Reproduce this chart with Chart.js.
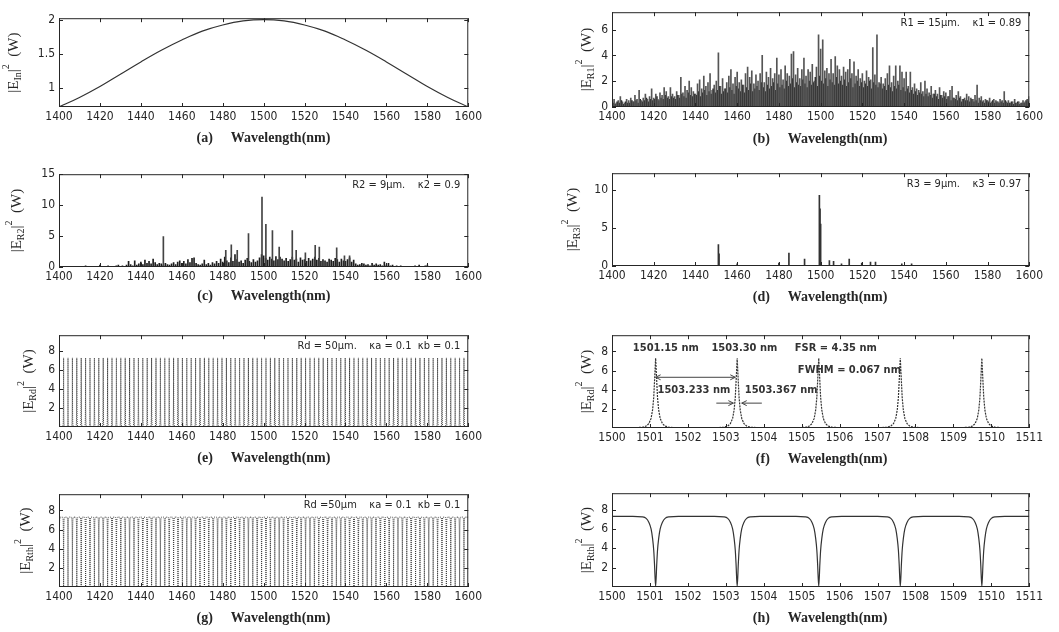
<!DOCTYPE html>
<html>
<head>
<meta charset="utf-8">
<script src="https://cdn.jsdelivr.net/npm/chart.js@4.4.1/dist/chart.umd.min.js"></script>
<style>
  body { margin: 0; background: #fff; width: 1059px; height: 632px; overflow: hidden; position: relative; }
  canvas { position: absolute; }
</style>
</head>
<body>
<script>
// Spectra of the cascaded ring resonator system, eight panels (a)-(h)

// ---- shared axis ticks ----
const wideTicks = [1400, 1420, 1440, 1460, 1480, 1500, 1520, 1540, 1560, 1580, 1600];
const zoomTicks = [1500, 1501, 1502, 1503, 1504, 1505, 1506, 1507, 1508, 1509, 1510, 1511];
const combYTicks = [2, 4, 6, 8];

// ---- (a) input gaussian pulse, every 10 nm ----
const inputWl = [1400, 1410, 1420, 1430, 1440, 1450, 1460, 1470, 1480, 1490, 1500,
                 1510, 1520, 1530, 1540, 1550, 1560, 1570, 1580, 1590, 1600];
const inputPower = [0.72, 0.86, 1.02, 1.20, 1.38, 1.55, 1.70, 1.83, 1.92, 1.98, 2.0,
                    1.98, 1.92, 1.83, 1.70, 1.55, 1.38, 1.20, 1.02, 0.86, 0.72];

// ---- (b) ring R1: spikes every 1 nm from 1400, dense floor every 1 nm from 1400.5 ----
const ring1Power = [
  0.4, 0.6, 0.3, 0.5, 0.8, 0.4, 0.3, 0.6, 0.5, 0.7,
  0.4, 0.9, 0.6, 1.3, 0.5, 0.7, 1.0, 0.6, 0.8, 1.4,
  0.7, 1.0, 0.6, 1.1, 0.9, 1.5, 1.2, 0.8, 1.5, 1.0,
  0.8, 1.2, 0.9, 2.3, 1.1, 1.6, 1.3, 2.0, 1.5, 1.2,
  1.0, 1.8, 2.1, 1.4, 2.4, 1.6, 1.9, 2.6, 1.3, 1.7,
  2.0, 4.2, 1.6, 2.2, 1.4, 1.9, 2.4, 2.9, 1.8, 2.3,
  2.7, 1.9, 2.1, 1.7, 2.6, 3.1, 2.3, 2.8, 1.8, 2.5,
  2.0, 2.6, 4.0, 1.9, 2.7, 2.3, 3.0, 2.2, 2.6, 3.8,
  2.5, 2.9, 2.1, 3.2, 2.6, 2.4, 4.1, 4.3, 2.5, 3.0,
  2.2, 2.9, 3.8, 2.4, 2.9, 2.7, 3.3, 2.0, 3.1, 5.6,
  4.5, 5.2, 2.8, 3.0, 2.6, 3.7, 2.6, 3.9, 3.2, 2.9,
  2.4, 3.1, 2.7, 2.9, 3.7, 2.6, 3.5, 2.4, 2.9, 2.2,
  2.6, 2.0, 2.8, 2.3, 2.1, 4.6, 2.5, 5.6, 1.9, 2.3,
  1.8, 2.2, 2.6, 3.2, 1.9, 2.4, 3.2, 2.0, 3.2, 2.7,
  2.2, 2.7, 1.6, 2.7, 1.5, 1.8, 1.4, 1.3, 1.9, 1.2,
  2.0, 1.4, 1.1, 1.6, 1.0, 1.3, 1.0, 1.5, 0.9, 1.2,
  1.1, 0.8, 1.3, 1.6, 0.7, 0.9, 1.2, 0.8, 0.6, 0.7,
  1.0, 0.8, 0.7, 0.6, 0.9, 1.7, 0.7, 0.8, 0.5, 0.6,
  0.5, 0.7, 0.4, 0.6, 0.5, 0.4, 0.6, 0.5, 1.2, 0.4,
  0.5, 0.3, 0.4, 0.6, 0.3, 0.4, 0.3, 0.5, 0.4, 0.6,
  0.8
];
const ring1Floor = [
  0.3, 0.2, 0.4, 0.3, 0.5, 0.2, 0.4, 0.3, 0.3, 0.5,
  0.4, 0.5, 0.3, 0.6, 0.4, 0.5, 0.7, 0.4, 0.6, 0.5,
  0.6, 0.8, 0.5, 0.7, 0.6, 0.9, 0.7, 0.6, 0.8, 0.7,
  0.6, 0.9, 0.7, 1.0, 0.8, 0.7, 1.1, 0.9, 0.8, 1.0,
  0.9, 1.2, 0.8, 1.1, 1.3, 0.9, 1.2, 1.0, 1.4, 1.1,
  1.3, 1.6, 1.0, 1.2, 1.4, 1.1, 1.5, 1.3, 1.0, 1.6,
  1.4, 1.2, 1.7, 1.1, 1.5, 1.3, 1.8, 1.2, 1.4, 1.6,
  1.3, 1.9, 1.5, 1.2, 1.7, 1.4, 1.6, 1.9, 1.3, 1.8,
  1.5, 1.7, 1.4, 2.0, 1.6, 1.8, 2.2, 1.5, 1.9, 1.7,
  1.6, 2.1, 1.8, 1.5, 2.0, 1.7, 1.9, 2.3, 1.6, 2.4,
  2.0, 1.8, 2.2, 1.6, 2.1, 1.9, 1.7, 2.3, 1.8, 2.0,
  1.7, 2.1, 1.6, 1.9, 2.2, 1.5, 1.8, 2.0, 1.6, 1.9,
  1.5, 1.8, 1.6, 2.0, 1.4, 1.9, 1.7, 1.5, 1.8, 1.4,
  1.6, 1.3, 1.7, 1.5, 1.2, 1.6, 1.4, 1.7, 1.3, 1.5,
  1.2, 1.4, 1.1, 1.3, 1.0, 1.2, 0.9, 1.1, 1.0, 0.8,
  1.0, 0.8, 0.9, 0.7, 1.0, 0.8, 0.6, 0.9, 0.7, 0.8,
  0.6, 0.8, 0.5, 0.7, 0.6, 0.5, 0.7, 0.4, 0.6, 0.5,
  0.5, 0.4, 0.6, 0.4, 0.5, 0.3, 0.5, 0.4, 0.3, 0.5,
  0.4, 0.3, 0.5, 0.3, 0.4, 0.3, 0.4, 0.3, 0.5, 0.3,
  0.3, 0.4, 0.2, 0.3, 0.4, 0.2, 0.3, 0.3, 0.5, 0.4
];

// ---- (c) ring R2: low clutter every 1 nm from 1400, plus the resonant spikes ----
const ring2Base = [
  0.05, 0.05, 0.1, 0.05, 0.05, 0.1, 0.05, 0.05, 0.1, 0.05,
  0.1, 0.05, 0.1, 0.2, 0.05, 0.1, 0.05, 0.1, 0.05, 0.1,
  0.3, 0.1, 0.05, 0.1, 0.2, 0.1, 0.05, 0.1, 0.2, 0.3,
  0.1, 0.2, 0.1, 0.3, 0.9, 0.4, 0.2, 1.0, 0.3, 0.5,
  0.8, 0.4, 1.1, 0.6, 0.9, 0.5, 1.3, 0.7, 0.4, 0.6,
  0.5, 0.3, 0.6, 0.4, 0.3, 0.5, 0.7, 0.4, 0.8, 1.0,
  0.6, 0.9, 0.5, 1.2, 0.7, 1.4, 1.5, 0.6, 0.4, 0.3,
  0.5, 1.1, 0.4, 0.6, 0.3, 0.7, 0.5, 0.9, 0.6, 1.3,
  0.8, 1.6, 1.0, 0.7, 1.5, 0.9, 2.0, 1.2, 0.8, 1.0,
  0.6, 1.1, 1.4, 0.9, 0.7, 1.2, 0.8, 1.0, 1.5, 2.0,
  1.8, 1.4, 1.1, 1.6, 1.3, 1.0, 1.7, 1.2, 1.6, 1.3,
  1.0, 1.4, 0.9, 1.2, 1.6, 1.1, 1.3, 0.8, 1.5, 1.1,
  1.2, 0.9, 1.4, 1.0, 1.3, 1.6, 1.1, 1.4, 0.9, 1.2,
  1.0, 0.8, 1.3, 1.1, 0.9, 1.4, 1.2, 0.8, 1.3, 1.0,
  0.9, 1.2, 1.5, 0.8, 1.1, 0.5, 0.3, 0.4, 0.6, 0.5,
  0.3, 0.4, 0.2, 0.6, 0.3, 0.5, 0.3, 0.4, 0.2, 0.8,
  0.3, 0.6, 0.2, 0.3, 0.1, 0.2, 0.1, 0.2, 0.1, 0.1,
  0.1, 0.05, 0.1, 0.05, 0.2, 0.1, 0.3, 0.05, 0.1, 0.2,
  0.3, 0.05, 0.1, 0.05, 0.1, 0.05, 0.1, 0.05, 0.05, 0.1,
  0.05, 0.1, 0.05, 0.05, 0.1, 0.05, 0.05, 0.1, 0.05, 0.05,
  0.05
];
const ring2SpikeWl = [1451.0, 1481.5, 1484.2, 1487.1, 1492.6, 1499.2, 1501.1, 1504.3, 1507.6,
                      1514.0, 1515.9, 1520.4, 1525.2, 1527.2, 1535.7, 1539.5, 1542.0];
const ring2SpikePower = [4.9, 2.7, 3.6, 2.7, 5.4, 11.3, 6.9, 5.9, 3.2,
                         5.9, 2.7, 2.3, 3.5, 3.2, 3.1, 1.8, 1.8];

// ---- (d) ring R3: isolated spikes ----
const ring3Wl = [1451.0, 1451.3, 1460.0, 1480.0, 1484.8, 1492.3, 1499.4, 1499.7, 1500.0,
                 1504.2, 1506.2, 1510.0, 1513.7, 1519.7, 1523.9, 1526.3, 1538.9, 1543.6];
const ring3Power = [2.8, 1.6, 0.3, 0.4, 1.7, 0.9, 9.3, 7.5, 5.5,
                    0.7, 0.6, 0.3, 0.9, 0.4, 0.5, 0.5, 0.3, 0.3];

// ---- (e)-(h) add-drop ring Rd: resonance wavelengths (nm) ----
const combWl = [
  1400.10, 1402.25, 1404.40, 1406.55, 1408.70, 1410.85, 1413.00, 1415.15, 1417.30, 1419.45,
  1421.60, 1423.75, 1425.90, 1428.05, 1430.20, 1432.35, 1434.50, 1436.65, 1438.80, 1440.95,
  1443.10, 1445.25, 1447.40, 1449.55, 1451.70, 1453.85, 1456.00, 1458.15, 1460.30, 1462.45,
  1464.60, 1466.75, 1468.90, 1471.05, 1473.20, 1475.35, 1477.50, 1479.65, 1481.80, 1483.95,
  1486.10, 1488.25, 1490.40, 1492.55, 1494.70, 1496.85, 1499.00, 1501.15, 1503.30, 1505.45,
  1507.60, 1509.75, 1511.90, 1514.05, 1516.20, 1518.35, 1520.50, 1522.65, 1524.80, 1526.95,
  1529.10, 1531.25, 1533.40, 1535.55, 1537.70, 1539.85, 1542.00, 1544.15, 1546.30, 1548.45,
  1550.60, 1552.75, 1554.90, 1557.05, 1559.20, 1561.35, 1563.50, 1565.65, 1567.80, 1569.95,
  1572.10, 1574.25, 1576.40, 1578.55, 1580.70, 1582.85, 1585.00, 1587.15, 1589.30, 1591.45,
  1593.60, 1595.75, 1597.90
];
// line shape around one resonance: offset from centre (nm), drop-port and through-port power (W)
const lineOffsets = [-0.6, -0.35, -0.25, -0.18, -0.12, -0.08, -0.05, -0.03, 0, 0.03, 0.05, 0.08, 0.12, 0.18, 0.25, 0.35, 0.6];
const dropShape = [0.02, 0.08, 0.2, 0.45, 1.0, 1.9, 3.2, 4.8, 7.3, 4.8, 3.2, 1.9, 1.0, 0.45, 0.2, 0.08, 0.02];
const thruShape = [7.3, 7.25, 7.1, 6.7, 6.0, 5.0, 3.8, 2.4, 0.05, 2.4, 3.8, 5.0, 6.0, 6.7, 7.1, 7.25, 7.3];
const thruLevel = 7.3;

const ink = '#262626';
const tickFont = { family: "'Liberation Sans Narrow', 'DejaVu Sans Condensed', 'Arial Narrow', sans-serif", size: 12 };
const noteFont = "11px 'Liberation Sans Narrow', 'DejaVu Sans Condensed', sans-serif";

function gridPoints(start, step, values) {
  return values.map((y, i) => ({ x: start + i * step, y }));
}
function pairPoints(xs, ys) {
  return xs.map((x, i) => ({ x, y: ys[i] }));
}
function resonances(centres, shape, from, to, rest) {
  const pts = [{ x: from, y: rest }];
  centres.filter(c => c > from && c < to).forEach(c => {
    lineOffsets.forEach((o, i) => pts.push({ x: c + o, y: shape[i] }));
  });
  pts.push({ x: to, y: rest });
  return pts;
}
function bars(data, color) {
  return { type: 'bar', data, backgroundColor: color, barThickness: 1, grouped: false };
}
function trace(data, color, width, extra) {
  return Object.assign({ type: 'line', data, borderColor: color, borderWidth: width,
                         pointRadius: 0, fill: false, tension: 0 }, extra || {});
}

// rotated y label |E_sub|^2 (W)
function drawYLabel(ctx, cx, cy, sub) {
  const big = "15px 'Liberation Serif', serif";
  const small = "10px 'Liberation Serif', serif";
  const parts = [['|E', big, 0], [sub, small, 4], ['|', big, 0], ['2', small, -8], ['  (W)', big, 0]];
  ctx.save();
  ctx.textAlign = 'left';
  ctx.textBaseline = 'middle';
  let w = 0;
  parts.forEach(p => { ctx.font = p[1]; w += ctx.measureText(p[0]).width; });
  ctx.translate(cx, cy);
  ctx.rotate(-Math.PI / 2);
  ctx.fillStyle = ink;
  let pos = -w / 2;
  parts.forEach(p => {
    ctx.font = p[1];
    ctx.fillText(p[0], pos, p[2]);
    pos += ctx.measureText(p[0]).width;
  });
  ctx.restore();
}

function drawArrow(ctx, x0, y0, x1, y1, both) {
  const head = (xa, xb, yy) => {
    const d = xb > xa ? -1 : 1;
    ctx.moveTo(xb, yy); ctx.lineTo(xb + d * 5, yy - 2.5);
    ctx.moveTo(xb, yy); ctx.lineTo(xb + d * 5, yy + 2.5);
  };
  ctx.beginPath();
  ctx.moveTo(x0, y0); ctx.lineTo(x1, y1);
  head(x0, x1, y1);
  if (both) head(x1, x0, y0);
  ctx.stroke();
}

// box, inward ticks, axis titles and in-plot notes
const framePlugin = {
  id: 'frame',
  afterDraw(chart, args, opts) {
    const { ctx, chartArea: a, scales: { x, y } } = chart;
    ctx.save();
    ctx.strokeStyle = ink;
    ctx.lineWidth = 1;
    ctx.strokeRect(a.left + 0.5, a.top + 0.5, a.right - a.left - 1, a.bottom - a.top - 1);
    ctx.beginPath();
    x.ticks.forEach(t => {
      const px = Math.round(x.getPixelForValue(t.value)) + 0.5;
      ctx.moveTo(px, a.bottom); ctx.lineTo(px, a.bottom - 4);
      ctx.moveTo(px, a.top); ctx.lineTo(px, a.top + 4);
    });
    y.ticks.forEach(t => {
      const py = Math.round(y.getPixelForValue(t.value)) + 0.5;
      ctx.moveTo(a.left, py); ctx.lineTo(a.left + 4, py);
      ctx.moveTo(a.right, py); ctx.lineTo(a.right - 4, py);
    });
    ctx.stroke();

    // x title: panel letter and Wavelength(nm)
    ctx.fillStyle = ink;
    ctx.font = "bold 14px 'Liberation Serif', serif";
    ctx.textBaseline = 'middle';
    const word = 'Wavelength(nm)';
    const ww = ctx.measureText(word).width;
    const wx = (a.left + a.right) / 2 + 17 - ww / 2;
    const ty = a.bottom + opts.titleGap;
    ctx.textAlign = 'left';
    ctx.fillText(word, wx, ty);
    ctx.textAlign = 'right';
    ctx.fillText(opts.letter, wx - 18, ty);

    drawYLabel(ctx, a.left - opts.labelGap, (a.top + a.bottom) / 2, opts.sub);

    if (opts.note) {
      ctx.font = noteFont;
      ctx.textAlign = 'right';
      ctx.textBaseline = 'middle';
      ctx.fillStyle = '#fff';
      const nw = ctx.measureText(opts.note).width;
      ctx.fillRect(a.right - 8 - nw - 2, a.top + 4, nw + 4, 13);
      ctx.fillStyle = ink;
      ctx.fillText(opts.note, a.right - 8, a.top + 11);
    }

    (opts.marks || []).forEach(m => {
      ctx.font = "bold 11px 'Liberation Sans Narrow', 'DejaVu Sans Condensed', sans-serif";
      ctx.textAlign = 'left';
      ctx.textBaseline = 'middle';
      ctx.fillStyle = '#333';
      ctx.fillText(m.text, x.getPixelForValue(m.x), y.getPixelForValue(m.y));
    });
    (opts.arrows || []).forEach(r => {
      ctx.strokeStyle = '#444';
      drawArrow(ctx, x.getPixelForValue(r.from[0]), y.getPixelForValue(r.from[1]),
                x.getPixelForValue(r.to[0]), y.getPixelForValue(r.to[1]), r.both);
    });
    ctx.restore();
  }
};

const panels = [
  { box: [59, 15, 473, 107], xr: [1400, 1600], xTicks: wideTicks, yr: [0.72, 2.02], yTicks: [1, 1.5, 2],
    frame: { letter: '(a)', sub: 'In', labelGap: 45, titleGap: 31 },
    datasets: [trace(pairPoints(inputWl, inputPower), '#333', 1.2, { tension: 0.4 })] },
  { box: [612, 9, 1034, 107], xr: [1400, 1600], xTicks: wideTicks, yr: [0, 7.35], yTicks: [0, 2, 4, 6],
    frame: { letter: '(b)', sub: 'R1', labelGap: 25, titleGap: 32, note: 'R1 = 15\u03bcm.    \u03ba1 = 0.89' },
    datasets: [bars(gridPoints(1400, 1, ring1Power), '#555'), bars(gridPoints(1400.5, 1, ring1Floor), '#1e1e1e')] },
  { box: [59, 171, 473, 267], xr: [1400, 1600], xTicks: wideTicks, yr: [0, 15], yTicks: [0, 5, 10, 15],
    frame: { letter: '(c)', sub: 'R2', labelGap: 42, titleGap: 29, note: 'R2 = 9\u03bcm.    \u03ba2 = 0.9' },
    datasets: [bars(pairPoints(ring2SpikeWl, ring2SpikePower), '#444'), bars(gridPoints(1400, 1, ring2Base), '#1e1e1e')] },
  { box: [612, 170, 1034, 266], xr: [1400, 1600], xTicks: wideTicks, yr: [0, 12.2], yTicks: [0, 5, 10],
    frame: { letter: '(d)', sub: 'R3', labelGap: 39, titleGap: 31, note: 'R3 = 9\u03bcm.    \u03ba3 = 0.97' },
    datasets: [bars(pairPoints(ring3Wl, ring3Power), '#333')] },
  { box: [59, 332, 473, 427], xr: [1400, 1600], xTicks: wideTicks, yr: [0, 9.7], yTicks: combYTicks,
    frame: { letter: '(e)', sub: 'Rd', labelGap: 30, titleGap: 31, note: 'Rd = 50\u03bcm.    \u03baa = 0.1  \u03bab = 0.1' },
    datasets: [trace(resonances(combWl, dropShape, 1400, 1600, 0), '#3a3a3a', 1, { borderDash: [1, 1] })] },
  { box: [612, 332, 1034, 428], xr: [1500, 1511], xTicks: zoomTicks, yr: [0, 9.7], yTicks: combYTicks,
    frame: { letter: '(f)', sub: 'Rd', labelGap: 25, titleGap: 31,
      marks: [
        { text: '1501.15 nm', x: 1500.55, y: 8.3 },
        { text: '1503.30 nm', x: 1502.62, y: 8.3 },
        { text: 'FSR = 4.35 nm', x: 1504.82, y: 8.3 },
        { text: 'FWHM = 0.067 nm', x: 1504.9, y: 6.0 },
        { text: '1503.233 nm', x: 1501.2, y: 4.0 },
        { text: '1503.367 nm', x: 1503.5, y: 4.0 }
      ],
      arrows: [
        { from: [1501.15, 5.3], to: [1503.25, 5.3], both: true },
        { from: [1502.75, 2.6], to: [1503.2, 2.6] },
        { from: [1503.95, 2.6], to: [1503.42, 2.6] }
      ] },
    datasets: [trace(resonances(combWl, dropShape, 1500, 1511, 0), '#333', 1.2, { borderDash: [2, 1] })] },
  { box: [59, 491, 473, 587], xr: [1400, 1600], xTicks: wideTicks, yr: [0, 9.7], yTicks: combYTicks,
    frame: { letter: '(g)', sub: 'Rth', labelGap: 33, titleGap: 31, note: 'Rd =50\u03bcm    \u03baa = 0.1  \u03bab = 0.1' },
    datasets: [trace(resonances(combWl, thruShape, 1400, 1600, thruLevel), '#3a3a3a', 1, { borderDash: [1, 1] })] },
  { box: [612, 490, 1034, 587], xr: [1500, 1511], xTicks: zoomTicks, yr: [0, 9.7], yTicks: combYTicks,
    frame: { letter: '(h)', sub: 'Rth', labelGap: 25, titleGap: 31 },
    datasets: [trace(resonances(combWl, thruShape, 1500, 1511, thruLevel), '#333', 1.2, { cubicInterpolationMode: 'monotone' })] }
];

const padL = 70, padT = 8, padR = 12, padB = 48;

panels.forEach(p => {
  const [l, t, r, b] = p.box;
  const canvas = document.createElement('canvas');
  canvas.width = r - l + padL + padR;
  canvas.height = b - t + padT + padB;
  canvas.style.left = (l - padL) + 'px';
  canvas.style.top = (t - padT) + 'px';
  document.body.appendChild(canvas);

  new Chart(canvas, {
    type: 'bar',
    data: { datasets: p.datasets },
    options: {
      responsive: false,
      animation: false,
      events: [],
      layout: { padding: { left: 0, top: padT, right: padR, bottom: 0 } },
      plugins: { legend: { display: false }, tooltip: { enabled: false }, frame: p.frame },
      scales: {
        x: {
          type: 'linear', min: p.xr[0], max: p.xr[1], offset: false,
          grid: { display: false, drawTicks: false }, border: { display: false },
          ticks: { font: tickFont, color: ink, padding: 3, maxRotation: 0, autoSkip: false, callback: v => String(v) },
          afterBuildTicks: s => { s.ticks = p.xTicks.map(v => ({ value: v })); },
          afterFit: s => { s.height = padB; }
        },
        y: {
          type: 'linear', min: p.yr[0], max: p.yr[1],
          grid: { display: false, drawTicks: false }, border: { display: false },
          ticks: { font: tickFont, color: ink, padding: 4, autoSkip: false, callback: v => String(v) },
          afterBuildTicks: s => { s.ticks = p.yTicks.map(v => ({ value: v })); },
          afterFit: s => { s.width = padL; }
        }
      }
    },
    plugins: [framePlugin]
  });
});
</script>
</body>
</html>
